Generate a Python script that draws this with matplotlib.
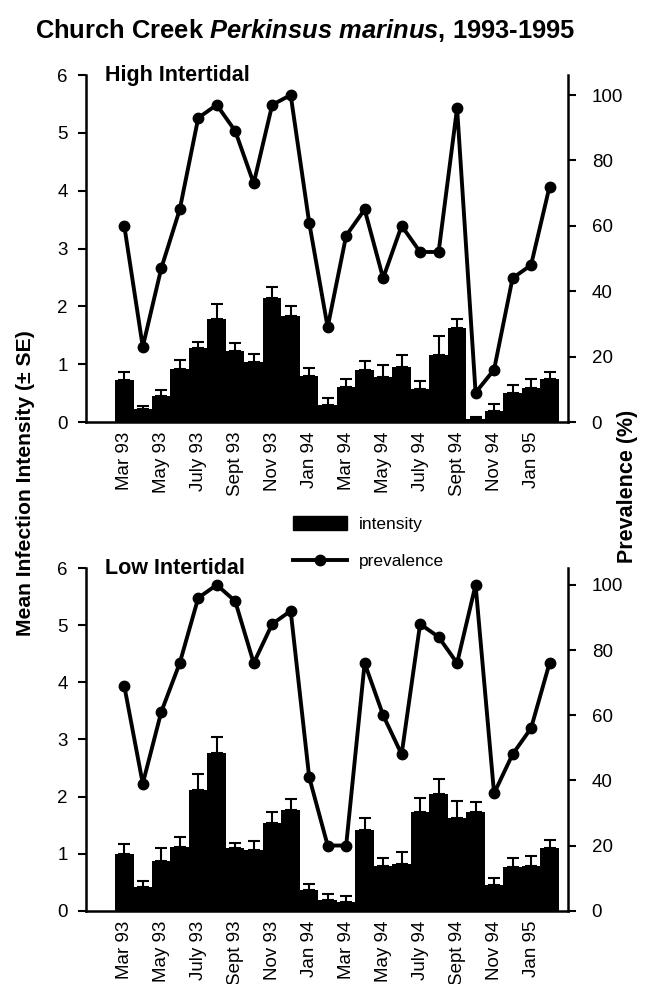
import numpy as np
import matplotlib
matplotlib.use("Agg")
import matplotlib.pyplot as plt
from matplotlib.patches import Patch
from matplotlib.lines import Line2D

plt.rcParams['font.family'] = ['Liberation Sans', 'DejaVu Sans']
plt.rcParams['mathtext.fontset'] = 'custom'
plt.rcParams['mathtext.it'] = 'Liberation Sans:italic:bold'
plt.rcParams['mathtext.rm'] = 'Liberation Sans:bold'

# monthly samples, Mar 93 .. Feb 95
months = ['Mar 93', 'Apr 93', 'May 93', 'Jun 93', 'July 93', 'Aug 93', 'Sept 93', 'Oct 93',
          'Nov 93', 'Dec 93', 'Jan 94', 'Feb 94', 'Mar 94', 'Apr 94', 'May 94', 'Jun 94',
          'July 94', 'Aug 94', 'Sept 94', 'Oct 94', 'Nov 94', 'Dec 94', 'Jan 95', 'Feb 95']

# high intertidal
high_int = [0.73, 0.22, 0.45, 0.92, 1.28, 1.78, 1.23, 1.03, 2.14, 1.83, 0.79, 0.29,
            0.61, 0.90, 0.78, 0.96, 0.57, 1.16, 1.62, 0.06, 0.19, 0.51, 0.59, 0.74]
high_se = [0.14, 0.06, 0.11, 0.16, 0.10, 0.26, 0.14, 0.15, 0.20, 0.17, 0.14, 0.12,
           0.13, 0.16, 0.21, 0.20, 0.14, 0.32, 0.17, 0.03, 0.12, 0.13, 0.15, 0.13]
high_prev = [60, 23, 47, 65, 93, 97, 89, 73, 97, 100, 61, 29,
             57, 65, 44, 60, 52, 52, 96, 9, 16, 44, 48, 72]

# low intertidal
low_int = [1.00, 0.42, 0.87, 1.12, 2.12, 2.76, 1.09, 1.07, 1.54, 1.76, 0.37, 0.19,
           0.16, 1.42, 0.78, 0.81, 1.73, 2.04, 1.62, 1.73, 0.45, 0.77, 0.78, 1.09]
low_se = [0.17, 0.10, 0.22, 0.17, 0.27, 0.28, 0.09, 0.15, 0.19, 0.19, 0.10, 0.11,
          0.10, 0.21, 0.15, 0.21, 0.25, 0.27, 0.30, 0.18, 0.13, 0.16, 0.18, 0.15]
low_prev = [69, 39, 61, 76, 96, 100, 95, 76, 88, 92, 41, 20,
            20, 76, 60, 48, 88, 84, 76, 100, 36, 48, 56, 76]

FS_TICK = 13.5
x = np.arange(len(months))

fig = plt.figure(figsize=(6.56, 9.84), dpi=100)


def panel(rect, vals, se, prev, label, ptop):
    ax = fig.add_axes(rect)
    ax.bar(x, vals, width=1.0, color='black', linewidth=0,
           yerr=[np.zeros(len(se)), se],
           error_kw=dict(ecolor='black', elinewidth=1.5, capsize=4.5, capthick=1.5))
    ax.set_xlim(-2.07, 24.0)
    ax.set_ylim(0, 6)
    ax.set_yticks(range(7))
    ax.set_xticks(x[::2])
    ax.set_xticklabels(months[::2], rotation=90, fontsize=FS_TICK)
    ax.tick_params(axis='x', length=0, pad=7)
    ax.tick_params(axis='y', labelsize=FS_TICK, length=6, width=1.5, pad=7)
    for s in ['top', 'right']:
        ax.spines[s].set_visible(False)
    for s in ['left', 'bottom']:
        ax.spines[s].set_linewidth(1.8)
    ax.text(0.04, 1.0, label, transform=ax.transAxes, fontsize=15.5,
            fontweight='bold', ha='left', va='center')

    ax2 = ax.twinx()
    ax2.plot(x, prev, color='black', lw=2.8, marker='o', ms=7.5)
    ax2.set_ylim(0, ptop)
    ax2.set_yticks(range(0, 101, 20))
    ax2.tick_params(axis='y', labelsize=FS_TICK, length=6, width=1.5, pad=11)
    for s in ['top', 'left', 'bottom']:
        ax2.spines[s].set_visible(False)
    ax2.spines['right'].set_linewidth(1.8)
    return ax, ax2


panel([0.1311, 0.5711, 0.7348, 0.3526], high_int, high_se, high_prev,
      'High Intertidal', 106.1)
panel([0.1311, 0.0745, 0.7348, 0.3480], low_int, low_se, low_prev,
      'Low Intertidal', 105.1)

fig.text(305 / 656, 1 - 31 / 984,
         r"Church Creek $\it{Perkinsus\ marinus}$, 1993-1995",
         fontsize=18.4, fontweight='bold', ha='center', va='center')

fig.text(26 / 656, 1 - 483 / 984, 'Mean Infection Intensity (\u00b1 SE)',
         rotation=90, fontsize=15.2, fontweight='bold', ha='center', va='center')
fig.text(628 / 656, 1 - 486 / 984, 'Prevalence (%)',
         rotation=90, fontsize=15.5, fontweight='bold', ha='center', va='center')

handles = [Patch(facecolor='black', edgecolor='black'),
           Line2D([], [], color='black', lw=2.8, marker='o', ms=7.5)]
fig.legend(handles, ['intensity', 'prevalence'], loc='upper left',
           bbox_to_anchor=(293 / 656, 1 - 516 / 984), frameon=False,
           fontsize=12.5, handlelength=3.1, handleheight=0.9,
           handletextpad=0.7, labelspacing=1.2, borderpad=0, borderaxespad=0)

fig.savefig('out.png', dpi=100)
